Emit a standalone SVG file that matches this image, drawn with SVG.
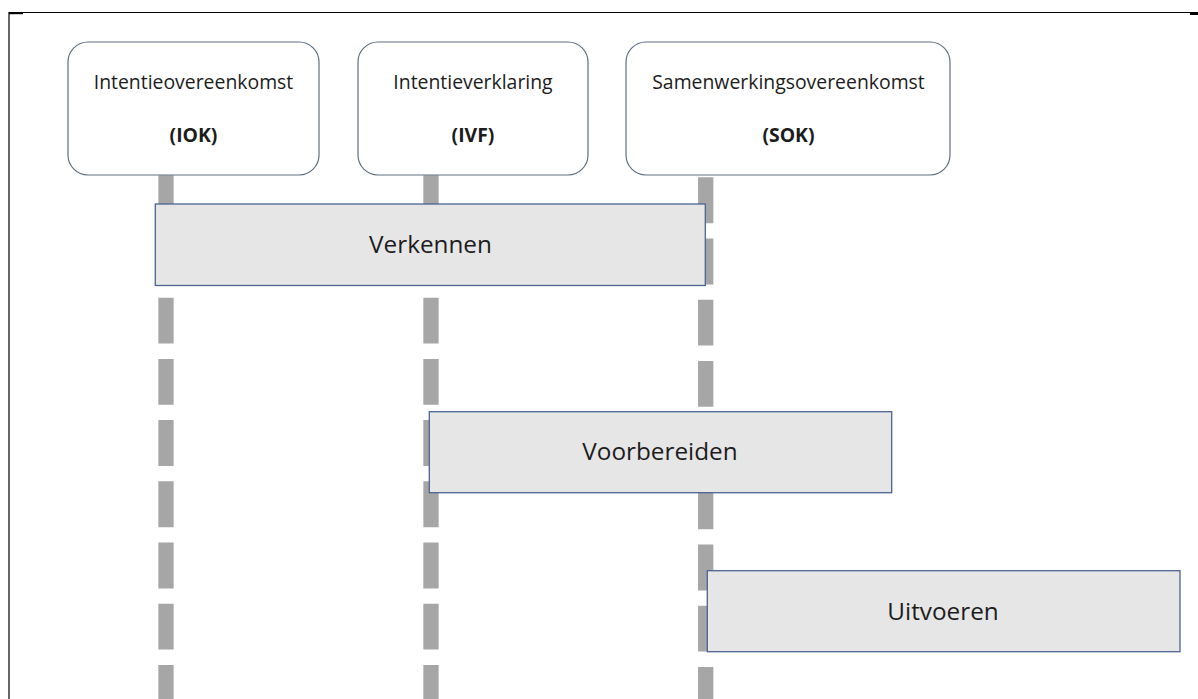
<svg xmlns="http://www.w3.org/2000/svg" width="1198" height="699" viewBox="0 0 1198 699">
  <style>
    .frame { stroke: #000; stroke-width: 1.2; fill: none; }
    .milestone { fill: #ffffff; stroke: #5f6f80; stroke-width: 1.2; }
    .phase { fill: #e7e6e6; stroke: #4a6491; stroke-width: 1.3; }
    .life { stroke: #a6a6a6; stroke-width: 15.3; stroke-dasharray: 45.9 15.3; fill: none; }
    .t { font-family: "Open Sans", "Liberation Sans", sans-serif; fill: #1c1c1c; text-anchor: middle; }
    .title { font-size: 19.4px; }
    .abbr { font-size: 19.4px; font-weight: bold; }
    .pl { font-size: 24.3px; }
  </style>
  <rect x="0" y="0" width="1198" height="699" fill="#ffffff"/>
  <g id="frame">
    <path class="frame" d="M9 699 V12.5 H1198"/>
    <rect x="9" y="12" width="14" height="2.2" fill="#000"/>
    <rect x="1190" y="12" width="8" height="3" fill="#000"/>
  </g>
  <g id="connectors">
    <line class="life" x1="166" y1="175.3" x2="166" y2="699"/>
    <line class="life" x1="431" y1="175.3" x2="431" y2="699"/>
    <line class="life" x1="705.7" y1="177.3" x2="705.7" y2="699"/>
  </g>
  <g id="node-iok">
    <rect class="milestone" x="68" y="42" width="251" height="133" rx="20" ry="20"/>
    <text class="t title" x="193.5" y="89">Intentieovereenkomst</text>
    <text class="t abbr" x="193.5" y="142">(IOK)</text>
  </g>
  <g id="node-ivf">
    <rect class="milestone" x="358" y="42" width="230" height="133" rx="20" ry="20"/>
    <text class="t title" x="473" y="89">Intentieverklaring</text>
    <text class="t abbr" x="473" y="142">(IVF)</text>
  </g>
  <g id="node-sok">
    <rect class="milestone" x="626" y="42" width="324" height="133" rx="20" ry="20"/>
    <text class="t title" x="788.5" y="89">Samenwerkingsovereenkomst</text>
    <text class="t abbr" x="788.5" y="142">(SOK)</text>
  </g>
  <g id="node-verkennen">
    <rect class="phase" x="155.3" y="204" width="550" height="81.5"/>
    <text class="t pl" x="430.5" y="253">Verkennen</text>
  </g>
  <g id="node-voorbereiden">
    <rect class="phase" x="429.3" y="411.7" width="462.4" height="81"/>
    <text class="t pl" x="660" y="460">Voorbereiden</text>
  </g>
  <g id="node-uitvoeren">
    <rect class="phase" x="707.3" y="570.7" width="472.7" height="81"/>
    <text class="t pl" x="943" y="620">Uitvoeren</text>
  </g>
</svg>
